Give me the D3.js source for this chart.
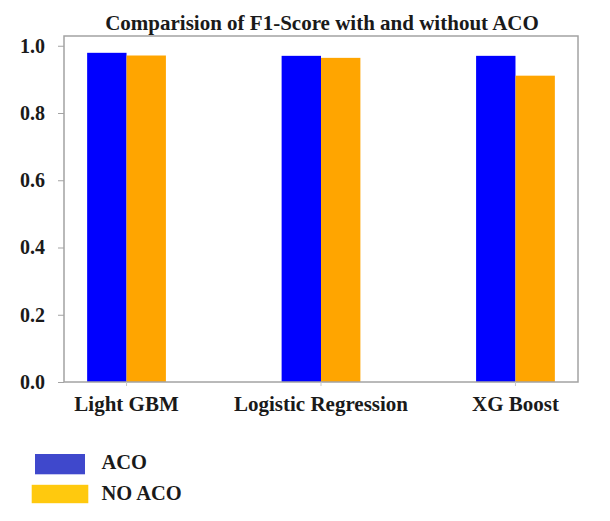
<!DOCTYPE html>
<html><head><meta charset="utf-8">
<script src="https://cdn.jsdelivr.net/npm/d3@7"></script>
<style>body{margin:0;background:#fff}svg{display:block}</style>
</head><body><svg id="c" width="610" height="521"></svg>
<script>
const categories = ["Light GBM", "Logistic Regression", "XG Boost"];
const series = ["ACO", "NO ACO"];
const acoValues = [0.979, 0.970, 0.970];
const noAcoValues = [0.971, 0.964, 0.911];
const yTicks = [0.0, 0.2, 0.4, 0.6, 0.8, 1.0];
const title = "Comparision of F1-Score with and without ACO";

const barColors = ["#0000ff", "#ffa500"];
const legendColors = ["#3f48cc", "#ffc90e"];
const FONT = '"Liberation Serif", "Times New Roman", Tinos, serif';

const svg = d3.select("#c");
const L = 64, R = 578, T = 36, B = 382;

const x0 = d3.scaleBand().domain(categories).range([L, R]).paddingInner(0.595).paddingOuter(0.119);
const x1 = d3.scaleBand().domain(series).range([0, x0.bandwidth()]);
const y = d3.scaleLinear().domain([0, 1.029]).range([B, T]);

const data = categories.map((c, i) => ({cat: c, vals: [acoValues[i], noAcoValues[i]]}));

function styleText(sel, size) {
  sel.style("font-family", FONT).style("font-weight", "bold").style("font-size", size + "px").style("fill", "#1a1a1a");
}

// bars
svg.append("g").selectAll("g.grp").data(data).join("g").attr("class", "grp")
  .attr("transform", d => `translate(${x0(d.cat)},0)`)
  .selectAll("rect").data(d => d.vals.map((v, j) => ({s: series[j], v, j})))
  .join("rect")
  .attr("x", d => x1(d.s)).attr("width", x1.bandwidth())
  .attr("y", d => y(d.v)).attr("height", d => y(0) - y(d.v))
  .attr("fill", d => barColors[d.j]);

// frame
svg.append("rect").attr("x", L).attr("y", T).attr("width", R - L).attr("height", B - T)
  .attr("fill", "none").attr("stroke", "#a3a3a3").attr("stroke-width", 1.5);

// y axis
const yAxis = svg.append("g").attr("transform", `translate(${L},0)`)
  .call(d3.axisLeft(y).tickValues(yTicks).tickFormat(d3.format(".1f")).tickSize(6).tickPadding(13));
yAxis.select(".domain").remove();
yAxis.selectAll(".tick line").attr("stroke", "#a3a3a3");
styleText(yAxis.selectAll(".tick text"), 20);

// x axis
const xAxis = svg.append("g").attr("transform", `translate(0,${B})`)
  .call(d3.axisBottom(x0).tickSize(4).tickPadding(10));
xAxis.select(".domain").remove();
xAxis.selectAll(".tick line").attr("stroke", "#c8c8c8");
styleText(xAxis.selectAll(".tick text"), 21);

// title
styleText(svg.append("text").attr("x", 322).attr("y", 29.5).attr("text-anchor", "middle").text(title), 21);

// legend
const legRows = svg.append("g").selectAll("g").data(series).join("g")
  .attr("transform", (d, i) => `translate(0,${454 + i * 30.5})`);
legRows.append("rect").attr("x", (d, i) => i ? 31.7 : 35).attr("width", (d, i) => i ? 56.6 : 50)
  .attr("y", (d, i) => i ? 0.3 : 0).attr("height", (d, i) => i ? 18.4 : 20.3)
  .attr("fill", (d, i) => legendColors[i]);
styleText(legRows.append("text").attr("x", 101.5).attr("y", (d, i) => i ? 15.5 : 15.3).text(d => d), 20.5);
</script></body></html>
